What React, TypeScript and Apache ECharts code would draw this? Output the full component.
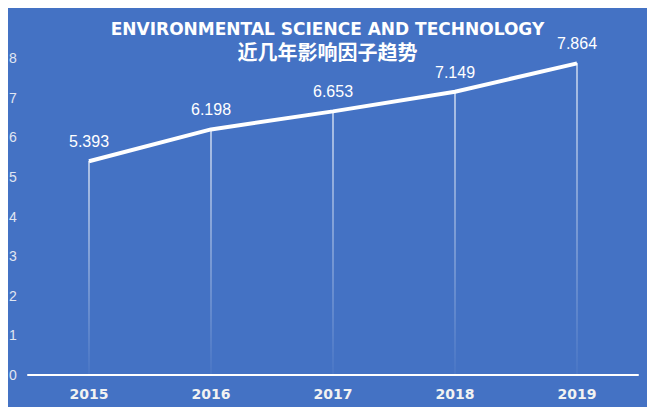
import React, { useEffect, useRef } from "react";
import * as echarts from "echarts";

const years = ["2015", "2016", "2017", "2018", "2019"];
const impactFactor = [5.393, 6.198, 6.653, 7.149, 7.864];
const yTicks = { min: 0, max: 8, interval: 1 };
const titleText = "ENVIRONMENTAL SCIENCE AND TECHNOLOGY";
const subtitleText = "近几年影响因子趋势";

export default function App() {
  const ref = useRef<HTMLDivElement>(null);
  useEffect(() => {
    const chart = echarts.init(ref.current!, null, { renderer: "svg" });
    chart.setOption({
      animation: false,
      backgroundColor: "#4472C4",
      title: [
        {
          text: titleText,
          left: "center",
          top: 20,
          padding: 0,
          textStyle: {
            color: "#ffffff",
            fontSize: 17,
            lineHeight: 17,
            fontWeight: "bold",
            fontFamily: "DejaVu Sans",
          },
        },
        {
          text: subtitleText,
          left: "center",
          top: 41,
          padding: 0,
          textStyle: {
            color: "#ffffff",
            fontSize: 20,
            lineHeight: 20,
            fontWeight: "bold",
            fontFamily: "Noto Sans CJK SC",
          },
        },
      ],
      grid: { left: 28, right: 17, top: 58, bottom: 40 },
      xAxis: {
        type: "category",
        data: years,
        axisLine: { lineStyle: { color: "#ffffff", width: 2 } },
        axisTick: { show: false },
        axisLabel: {
          color: "#f2f2f2",
          fontSize: 14,
          fontWeight: "bold",
          fontFamily: "DejaVu Sans",
          margin: 12,
        },
      },
      yAxis: {
        type: "value",
        min: yTicks.min,
        max: yTicks.max,
        interval: yTicks.interval,
        axisLine: { show: false },
        axisTick: { show: false },
        splitLine: { show: false },
        axisLabel: {
          color: "#e0e6f2",
          fontSize: 14,
          fontFamily: "Liberation Sans",
          align: "left",
          margin: 19,
        },
      },
      series: [
        {
          type: "bar",
          data: impactFactor,
          barWidth: 1.2,
          silent: true,
          itemStyle: {
            color: new echarts.graphic.LinearGradient(0, 0, 0, 1, [
              { offset: 0, color: "rgba(255,255,255,0.95)" },
              { offset: 1, color: "rgba(255,255,255,0.05)" },
            ]),
          },
        },
        {
          type: "line",
          data: impactFactor,
          symbol: "circle",
          symbolSize: 1,
          showSymbol: true,
          itemStyle: { color: "#ffffff" },
          lineStyle: { color: "#ffffff", width: 4 },
          label: {
            show: true,
            position: "top",
            distance: 11,
            color: "#ffffff",
            fontSize: 16,
            fontFamily: "Liberation Sans",
            formatter: (p: any) => Number(p.value).toFixed(3),
          },
        },
      ],
    });
    return () => chart.dispose();
  }, []);
  return <div ref={ref} style={{ width: 655, height: 415, margin: -8 }} />;
}
